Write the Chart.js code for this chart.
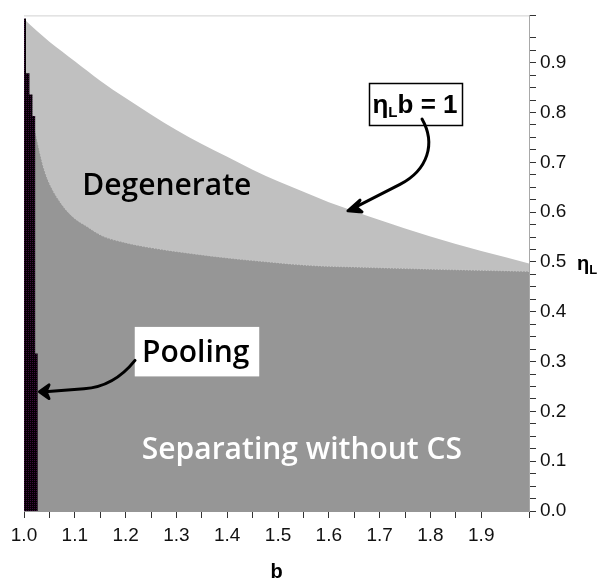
<!DOCTYPE html>
<html lang="en">

<head>
  <meta charset="UTF-8">
  <title>Regiões de equilíbrio</title>
  <style>
    body { margin: 0; background: #fff; }
    #caixa { width: 598px; height: 584px; }
  </style>
</head>

<body>
  <div id="caixa"><canvas id="grafico"></canvas></div>

  <script src="https://cdn.jsdelivr.net/npm/chart.js"></script>
  <script>
    // limite superior (eta_L * b = 1)
    const bSup = [1.0, 1.025, 1.05, 1.1, 1.15, 1.2, 1.25, 1.3, 1.35, 1.4, 1.45, 1.5, 1.55, 1.6, 1.65, 1.7, 1.75, 1.8, 1.85, 1.9, 1.95, 1.994];
    const etaSup = [0.988, 0.964, 0.942, 0.903, 0.864, 0.829, 0.796, 0.765, 0.737, 0.711, 0.685, 0.662, 0.641, 0.62, 0.602, 0.584, 0.567, 0.551, 0.536, 0.522, 0.509, 0.497];

    // fronteira entre "Degenerate" e "Separating without CS"
    const bInf = [1.021, 1.0305, 1.0404, 1.0535, 1.0732, 1.0955, 1.1224, 1.1545, 1.2018, 1.253, 1.32, 1.418, 1.48, 1.562, 1.674, 1.818, 1.994];
    const etaInf = [0.767, 0.722, 0.683, 0.65, 0.617, 0.591, 0.572, 0.552, 0.538, 0.528, 0.518, 0.506, 0.5, 0.493, 0.489, 0.485, 0.481];

    // faixa de pooling: altura de cada degrau e onde ele termina em b
    const bPoolFim = [1.0039, 1.0108, 1.0167, 1.022, 1.0272];
    const etaPool = [0.989, 0.879, 0.836, 0.793, 0.316];

    const xMin = 1.0, xMax = 1.994;
    const yMin = 0, yMax = 0.995;

    const pontos = (xs, ys) => xs.map((x, i) => ({ x: x, y: ys[i] }));

    // cantos dos degraus da faixa de pooling
    const degraus = [];
    let bIni = xMin;
    etaPool.forEach((e, i) => {
      degraus.push({ x: bIni, y: e });
      degraus.push({ x: bPoolFim[i], y: e });
      bIni = bPoolFim[i];
    });
    degraus.push({ x: bIni, y: 0 });

    // textura escura com pontinhos roxos
    const pc = document.createElement('canvas');
    pc.width = 2; pc.height = 2;
    const pctx = pc.getContext('2d');
    pctx.fillStyle = '#050004';
    pctx.fillRect(0, 0, 2, 2);
    pctx.fillStyle = '#3c0c3c';
    pctx.fillRect(0, 0, 1, 1);
    const ctx = document.getElementById('grafico').getContext('2d');
    const texturaPool = ctx.createPattern(pc, 'repeat');

    const fonteAnot = '600 30px "Open Sans"';

    const anotacoes = {
      id: 'anotacoes',
      afterDraw(chart) {
        const c = chart.ctx;
        const sx = chart.scales.x, sy = chart.scales.y;
        const px = b => sx.getPixelForValue(b);
        const py = e => sy.getPixelForValue(e);
        const area = chart.chartArea;
        c.save();

        // moldura de cima
        c.strokeStyle = '#d2d2d2';
        c.lineWidth = 1;
        c.beginPath();
        c.moveTo(area.left, area.top + 0.5);
        c.lineTo(area.right, area.top + 0.5);
        c.stroke();

        c.textAlign = 'center';
        c.textBaseline = 'alphabetic';
        c.font = fonteAnot;
        c.fillStyle = '#000';
        c.fillText('Degenerate', px(1.281), py(0.634));
        c.fillStyle = '#fff';
        c.fillText('Separating without CS', px(1.547), py(0.104));

        // caixa Pooling
        c.fillStyle = '#fff';
        c.fillRect(px(1.218), py(0.3696), px(1.463) - px(1.218), py(0.2702) - py(0.3696));
        c.fillStyle = '#000';
        c.fillText('Pooling', px(1.338), py(0.2997));

        // caixa eta_L b = 1
        const bx0 = px(1.6791), by0 = py(0.859), bx1 = px(1.8628), by1 = py(0.774);
        c.fillStyle = '#fff';
        c.fillRect(bx0, by0, bx1 - bx0, by1 - by0);
        c.strokeStyle = '#000';
        c.lineWidth = 1.5;
        c.strokeRect(Math.round(bx0) + 0.5, Math.round(by0) + 0.5, Math.round(bx1 - bx0), Math.round(by1 - by0));
        c.fillStyle = '#000';
        c.textAlign = 'left';
        const partes = [['η', 'bold 26px "Liberation Sans"', 0], ['L', 'bold 15px "Liberation Sans"', 4], ['b = 1', 'bold 26px "Liberation Sans"', 0]];
        let largura = 0;
        partes.forEach(p => { c.font = p[1]; largura += c.measureText(p[0]).width; });
        let xt = px(1.7696) - largura / 2;
        partes.forEach(p => {
          c.font = p[1];
          c.fillText(p[0], xt, py(0.7988) + p[2]);
          xt += c.measureText(p[0]).width;
        });

        // setas
        c.strokeStyle = '#000';
        c.lineWidth = 3;
        c.lineCap = 'round';
        c.lineJoin = 'round';
        c.beginPath();
        c.moveTo(px(1.2185), py(0.3023));
        c.quadraticCurveTo(px(1.1771), py(0.2493), px(1.1181), py(0.2453));
        c.lineTo(px(1.0413), py(0.2395));
        c.stroke();
        c.beginPath();
        c.moveTo(px(1.0305), py(0.2395));
        c.lineTo(px(1.0492), py(0.2532));
        c.lineTo(px(1.0433), py(0.2395));
        c.lineTo(px(1.0492), py(0.2257));
        c.closePath();
        c.fill();
        c.stroke();

        c.beginPath();
        c.moveTo(px(1.7834), py(0.7871));
        c.bezierCurveTo(px(1.8109), py(0.738), px(1.7952), py(0.685), px(1.7401), py(0.6556));
        c.quadraticCurveTo(px(1.6909), py(0.63), px(1.6457), py(0.6065));
        c.stroke();
        c.beginPath();
        c.moveTo(px(1.6377), py(0.6026));
        c.lineTo(px(1.6614), py(0.6241));
        c.lineTo(px(1.6535), py(0.6104));
        c.lineTo(px(1.6653), py(0.6005));
        c.closePath();
        c.fill();
        c.stroke();

        // títulos dos eixos
        c.fillStyle = '#000';
        c.textAlign = 'center';
        c.font = 'bold 20px "Liberation Sans"';
        c.fillText('b', (area.left + area.right) / 2, area.bottom + 67);
        c.textAlign = 'left';
        const yt = py(0.4848);
        c.fillText('η', area.right + 48, yt);
        const wEta = c.measureText('η').width;
        c.font = 'bold 13px "Liberation Sans"';
        c.fillText('L', area.right + 48 + wEta, yt + 4);

        c.restore();
      }
    };

    const rotuloDecimo = (v, limite) => {
      const r = Math.round(v * 10);
      if (Math.abs(v * 10 - r) < 1e-6 && v < limite) return (r / 10).toFixed(1);
      return '';
    };

    new Chart(ctx, {
      type: 'line',
      data: {
        datasets: [
          {
            label: 'Degenerate',
            data: pontos(bSup, etaSup),
            fill: 'origin',
            backgroundColor: '#c0c0c0',
            borderWidth: 0,
            pointRadius: 0,
            cubicInterpolationMode: 'monotone',
            order: 3
          },
          {
            label: 'Separating without CS',
            data: pontos(bInf, etaInf),
            fill: 'origin',
            backgroundColor: '#969696',
            borderColor: '#c8c8c8',
            borderWidth: 1,
            borderDash: [1, 2],
            pointRadius: 0,
            cubicInterpolationMode: 'monotone',
            order: 2
          },
          {
            label: 'Pooling',
            data: degraus,
            fill: 'origin',
            backgroundColor: texturaPool,
            borderWidth: 0,
            pointRadius: 0,
            order: 1
          }
        ]
      },
      options: {
        responsive: true,
        maintainAspectRatio: false,
        animation: false,
        layout: { padding: { left: 24, top: 4, right: 0, bottom: 0 } },
        plugins: {
          legend: { display: false },
          tooltip: { enabled: false }
        },
        scales: {
          x: {
            type: 'linear',
            min: xMin,
            max: xMax,
            afterFit: s => { s.height = 73; },
            ticks: {
              stepSize: 0.05,
              autoSkip: false,
              maxRotation: 0,
              padding: 6,
              color: '#111',
              font: { family: '"Liberation Sans"', size: 19 },
              callback: v => rotuloDecimo(v, 1.95)
            },
            grid: { drawOnChartArea: false, drawTicks: true, tickLength: 7, color: '#333' },
            border: { display: true, color: '#969696' }
          },
          y: {
            type: 'linear',
            position: 'right',
            min: yMin,
            max: yMax,
            afterFit: s => { s.width = 69; },
            ticks: {
              stepSize: 0.025,
              autoSkip: false,
              padding: 4,
              color: '#111',
              font: { family: '"Liberation Sans"', size: 19 },
              callback: v => rotuloDecimo(v, 0.95)
            },
            grid: { drawOnChartArea: false, drawTicks: true, tickLength: 7, color: '#333' },
            border: { display: true, color: '#a8a8a8' }
          }
        }
      },
      plugins: [anotacoes]
    });
  </script>
</body>

</html>
